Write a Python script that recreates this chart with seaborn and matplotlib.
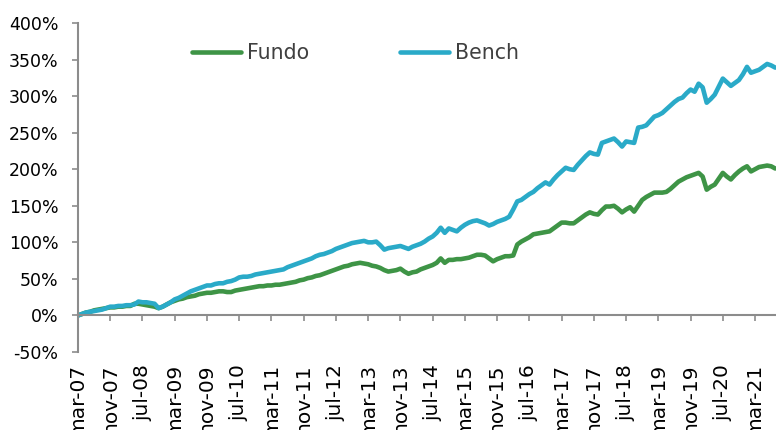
import pandas as pd
import matplotlib
matplotlib.use('Agg')
import matplotlib.pyplot as plt
import seaborn as sns

# monthly accumulated return (%), mar-07 .. aug-21
fundo = [
    0, 2, 4, 5, 7, 8, 9, 10, 11, 11, 12, 12,
    13, 13, 16, 16, 15, 14, 13, 12, 10, 12, 15, 18,
    20, 22, 23, 25, 26, 27, 29, 30, 31, 31, 32, 33,
    33, 32, 32, 34, 35, 36, 37, 38, 39, 40, 40, 41,
    41, 42, 42, 43, 44, 45, 46, 48, 49, 51, 52, 54,
    55, 57, 59, 61, 63, 65, 67, 68, 70, 71, 72, 71,
    70, 68, 67, 65, 62, 60, 61, 62, 64, 60, 57, 59,
    60, 63, 65, 67, 69, 72, 78, 72, 76, 76, 77, 77,
    78, 79, 81, 83, 83, 82, 78, 74, 77, 79, 81, 81,
    82, 97, 101, 104, 107, 111, 112, 113, 114, 115, 119, 123,
    127, 127, 126, 126, 130, 134, 138, 141, 139, 138, 144, 149,
    149, 150, 146, 141, 145, 148, 142, 150, 158, 162, 165, 168,
    168, 168, 169, 173, 178, 183, 186, 189, 191, 193, 195, 190,
    172, 176, 179, 187, 195, 190, 186, 192, 197, 201, 204, 197,
    200, 203, 204, 205, 204, 201,
]
bench = [
    0, 2, 4, 5, 6, 7, 8, 10, 12, 12, 13, 13,
    14, 14, 15, 19, 18, 18, 17, 16, 10, 12, 15, 18,
    22, 24, 27, 30, 33, 35, 37, 39, 41, 41, 43, 44,
    44, 46, 47, 49, 52, 53, 53, 54, 56, 57, 58, 59,
    60, 61, 62, 63, 66, 68, 70, 72, 74, 76, 78, 81,
    83, 84, 86, 88, 91, 93, 95, 97, 99, 100, 101, 102,
    100, 100, 101, 96, 90, 92, 93, 94, 95, 93, 91, 94,
    96, 98, 101, 105, 108, 113, 120, 113, 119, 117, 115, 120,
    124, 127, 129, 130, 128, 126, 123, 125, 128, 130, 132, 135,
    145, 156, 158, 162, 166, 169, 174, 178, 182, 179, 186, 192,
    197, 202, 200, 199, 206, 212, 218, 223, 221, 220, 236, 238,
    240, 242, 237, 231, 238, 237, 236, 257, 258, 260, 266, 272,
    274, 277, 282, 287, 292, 296, 298, 304, 309, 306, 317, 312,
    291, 296, 302, 313, 324, 319, 314, 318, 322, 330, 340, 332,
    334, 336, 340, 344, 342, 339,
]
series_names = ['Fundo', 'Bench']
series_colors = ['#3e9446', '#2aaac8']
y_ticks = [-50, 0, 50, 100, 150, 200, 250, 300, 350, 400]
month_abbr = {1: 'jan', 2: 'fev', 3: 'mar', 4: 'abr', 5: 'mai', 6: 'jun',
              7: 'jul', 8: 'ago', 9: 'set', 10: 'out', 11: 'nov', 12: 'dez'}

dates = pd.date_range('2007-03-01', periods=len(fundo), freq='MS')
df = pd.DataFrame({'idx': range(len(dates)), 'Fundo': fundo, 'Bench': bench})
df_long = df.melt(id_vars='idx', var_name='serie', value_name='ret')

sns.set_style('white')
plt.rcParams['font.family'] = ['DejaVu Sans']

fig = plt.figure(figsize=(7.76, 4.30), dpi=100)
ax = fig.add_axes([78 / 776, 78 / 430, 698 / 776, 329 / 430])

sns.lineplot(data=df_long, x='idx', y='ret', hue='serie', hue_order=series_names,
             palette=series_colors, linewidth=3.3, ax=ax)

ax.set_xlim(0, 173.2)
ax.set_ylim(-50, 400)

# spines first: set_position resets the ticks
for side in ['top', 'right']:
    ax.spines[side].set_visible(False)
ax.spines['bottom'].set_position(('data', 0))
for side in ['left', 'bottom']:
    ax.spines[side].set_color('#8c8c8c')
    ax.spines[side].set_linewidth(1.5)

# x ticks every 8 months, labels at the bottom of the chart
tick_idx = list(range(0, len(dates), 8))
tick_lbl = [f"{month_abbr[dates[i].month]}-{dates[i].strftime('%y')}" for i in tick_idx]
ax.set_xticks(tick_idx)
ax.set_xticklabels(tick_lbl, rotation=90, va='top', ha='center')
ax.set_yticks(y_ticks)
ax.set_yticklabels([f'{v}%' for v in y_ticks])
ax.set_xlabel('')
ax.set_ylabel('')

ax.tick_params(axis='y', direction='out', length=4, width=1.2, color='#8c8c8c',
               labelsize=12.5, labelcolor='black', pad=10, left=True)
ax.tick_params(axis='x', direction='out', length=4, width=1.2, color='#8c8c8c',
               labelsize=14.5, labelcolor='black', pad=31, bottom=True)

leg = ax.legend(loc='center', bbox_to_anchor=(0.398, 0.909), ncol=2, frameon=False,
                fontsize=14.8, handlelength=2.4, handletextpad=0.29, columnspacing=4.4,
                labelcolor='#404040')
for line in leg.get_lines():
    line.set_linewidth(3.3)

fig.savefig('out.png', dpi=100)
